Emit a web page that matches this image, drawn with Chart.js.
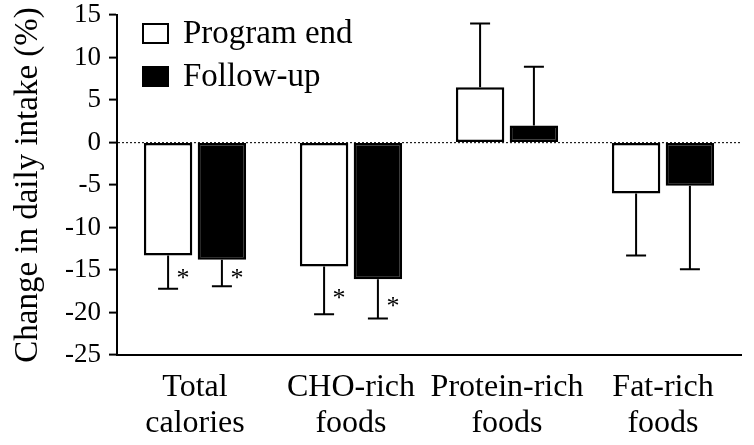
<!DOCTYPE html>
<html>
<head>
<meta charset="utf-8">
<script src="https://cdn.jsdelivr.net/npm/chart.js@4"></script>
<style>
  html, body { margin: 0; padding: 0; background: #fff; }
</style>
</head>
<body>
<canvas id="intakeChart" width="754" height="445"></canvas>
<script>
// categories and values
const categories = [['Total', 'calories'], ['CHO-rich', 'foods'], ['Protein-rich', 'foods'], ['Fat-rich', 'foods']];
const programEnd = [-13.3, -14.6, 6.5, -6.0];
const programEndErr = [3.9, 5.6, 7.5, 7.3];
const programEndSig = [true, true, false, false];
const followUp = [-13.8, -16.1, 2.0, -5.1];
const followUpErr = [3.1, 4.6, 6.9, 9.8];
const followUpSig = [true, true, false, false];
const yTicks = { min: -25, max: 15, step: 2.5 };

const serif = '"Liberation Serif", "Times New Roman", serif';

// one-sided error bars (away from zero) and the asterisks
const errorBars = {
    id: 'errorBars',
    afterDatasetsDraw(chart) {
        const ctx = chart.ctx;
        const yScale = chart.scales.y;
        chart.data.datasets.forEach((ds, di) => {
            const meta = chart.getDatasetMeta(di);
            meta.data.forEach((bar, i) => {
                const v = ds.data[i];
                const e = ds.errors[i];
                const end = v >= 0 ? v + e : v - e;
                const yEnd = yScale.getPixelForValue(end);
                ctx.save();
                ctx.strokeStyle = '#000';
                ctx.lineWidth = 2;
                ctx.beginPath();
                ctx.moveTo(bar.x, bar.y);
                ctx.lineTo(bar.x, yEnd);
                ctx.moveTo(bar.x - 10, yEnd);
                ctx.lineTo(bar.x + 10, yEnd);
                ctx.stroke();
                if (ds.sig[i]) {
                    ctx.fillStyle = '#000';
                    ctx.font = '26px ' + serif;
                    ctx.textAlign = 'center';
                    ctx.textBaseline = 'middle';
                    const yStar = yScale.getPixelForValue(v - e * 0.6);
                    ctx.fillText('*', bar.x + 15, yStar + 4);
                }
                ctx.restore();
            });
        });
    }
};

// legend drawn inside the plot, top left
const boxLegend = {
    id: 'boxLegend',
    afterDraw(chart) {
        const ctx = chart.ctx;
        const x0 = chart.chartArea.left + 26;
        chart.data.datasets.forEach((ds, i) => {
            const y = chart.chartArea.top + 9 + i * 43;
            ctx.save();
            ctx.fillStyle = ds.backgroundColor;
            ctx.fillRect(x0, y, 25, 19);
            ctx.lineWidth = 2;
            ctx.strokeStyle = '#000';
            ctx.strokeRect(x0, y, 25, 19);
            ctx.fillStyle = '#000';
            ctx.font = '33px ' + serif;
            ctx.textBaseline = 'middle';
            ctx.fillText(ds.label, x0 + 40, y + 10);
            ctx.restore();
        });
    }
};

const ctx = document.getElementById('intakeChart').getContext('2d');
new Chart(ctx, {
    type: 'bar',
    data: {
        labels: categories,
        datasets: [{
            label: 'Program end',
            data: programEnd,
            errors: programEndErr,
            sig: programEndSig,
            backgroundColor: '#ffffff',
            borderColor: '#000000',
            borderWidth: 2.5,
            borderSkipped: false
        }, {
            label: 'Follow-up',
            data: followUp,
            errors: followUpErr,
            sig: followUpSig,
            backgroundColor: '#000000',
            borderColor: '#000000',
            borderWidth: 2.5,
            borderSkipped: false
        }]
    },
    options: {
        responsive: false,
        animation: false,
        categoryPercentage: 0.69,
        barPercentage: 0.9,
        layout: { padding: { top: 15, right: 13, left: 0, bottom: 0 } },
        plugins: {
            legend: { display: false },
            tooltip: { enabled: false }
        },
        scales: {
            x: {
                afterFit: s => { s.height = 90; s.paddingLeft = 0; s.paddingRight = 0; },
                grid: { display: false, drawTicks: false },
                border: { display: true, color: '#000', width: 2 },
                ticks: {
                    color: '#000',
                    padding: 15,
                    autoSkip: false,
                    maxRotation: 0,
                    minRotation: 0,
                    font: { family: serif, size: 32, lineHeight: 1.12 }
                }
            },
            y: {
                min: yTicks.min,
                max: yTicks.max,
                afterFit: s => { s.width = 117; s.paddingTop = 0; s.paddingBottom = 0; },
                afterBuildTicks: s => {
                    const t = [];
                    for (let v = yTicks.min; v <= yTicks.max; v += yTicks.step) t.push({ value: v });
                    s.ticks = t;
                },
                grid: {
                    color: c => (c.tick && c.tick.value === 0 ? '#222' : 'rgba(0,0,0,0)'),
                    lineWidth: 1.2,
                    tickColor: '#000',
                    tickLength: 8,
                    tickWidth: c => (c.tick && c.tick.value % 5 === 0 ? 2 : 1.5)
                },
                border: { display: true, color: '#000', width: 2, dash: [2, 2] },
                ticks: {
                    color: '#000',
                    padding: 8,
                    font: { family: serif, size: 27, lineHeight: 1.0 },
                    callback: v => (v % 5 === 0 ? v : '')
                },
                title: {
                    display: true,
                    text: 'Change in daily intake (%)',
                    color: '#000',
                    font: { family: serif, size: 33 },
                    padding: { top: 9, bottom: 0 }
                }
            }
        }
    },
    plugins: [errorBars, boxLegend]
});
</script>
</body>
</html>
